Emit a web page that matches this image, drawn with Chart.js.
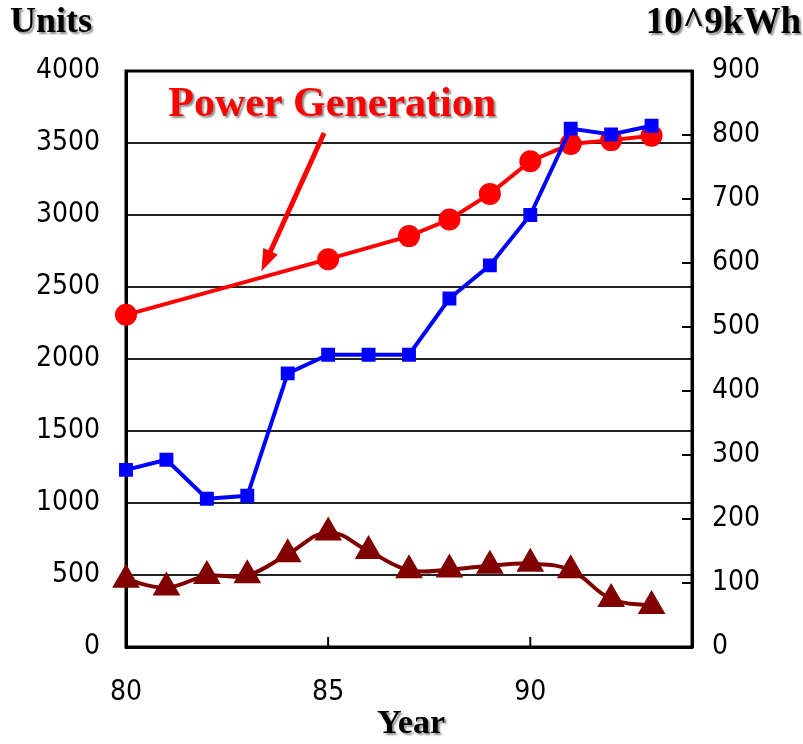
<!DOCTYPE html>
<html>
<head>
<meta charset="utf-8">
<script src="https://cdn.jsdelivr.net/npm/chart.js@4/dist/chart.umd.min.js"></script>
<style>
  html, body { margin: 0; padding: 0; background: #fff; }
  #wrap { width: 803px; height: 744px; }
</style>
</head>
<body>
<div id="wrap"><canvas id="myChart" width="803" height="744"></canvas></div>
<script>
// data
const years = [80, 81, 82, 83, 84, 85, 86, 87, 88, 89, 90, 91, 92, 93];
const units = [1230, 1300, 1030, 1050, 1900, 2030, 2030, 2030, 2420, 2650, 3000, 3600, 3560, 3620];
const powerGen = [519, null, null, null, null, 606, null, 642, 668, 708, 759, 786, 792, 799];
const lowSeries = [105, 93, 111, 112, 145, 179, 150, 120, 121, 127, 130, 120, 75, 64];
const xTickStep = 5;

const tickFont = { family: "'DejaVu Sans Condensed', 'Liberation Sans Narrow', sans-serif", size: 28 };
const serifBold = "'Liberation Serif', 'DejaVu Serif', serif";
const plain = (v) => String(v);

const toPoints = (vals) => years
    .map((y, i) => ({ x: y, y: vals[i] }))
    .filter(p => p.y !== null);

// labels, arrow, frame and inward ticks
const decorations = {
    id: 'decorations',
    beforeDatasetsDraw(chart) {
        const ctx = chart.ctx;
        const area = chart.chartArea;
        const xs = chart.scales.x;
        const yr = chart.scales.yRight;
        ctx.save();
        // frame
        ctx.strokeStyle = '#000';
        ctx.lineWidth = 3;
        ctx.strokeRect(area.left, area.top, area.right - area.left, area.bottom - area.top);
        // inward ticks on the right axis
        ctx.lineWidth = 2;
        yr.ticks.forEach(t => {
            const py = yr.getPixelForValue(t.value);
            ctx.beginPath();
            ctx.moveTo(area.right - 10, py);
            ctx.lineTo(area.right, py);
            ctx.stroke();
        });
        // inward ticks on the x axis
        xs.ticks.forEach(t => {
            const px = xs.getPixelForValue(t.value);
            ctx.beginPath();
            ctx.moveTo(px, area.bottom);
            ctx.lineTo(px, area.bottom - 10);
            ctx.stroke();
        });
        ctx.restore();
    },
    afterDraw(chart) {
        const ctx = chart.ctx;
        const xs = chart.scales.x;
        const yr = chart.scales.yRight;
        ctx.save();

        // titles with a soft shadow
        ctx.shadowColor = 'rgba(0,0,0,0.45)';
        ctx.shadowOffsetX = 2;
        ctx.shadowOffsetY = 2;
        ctx.shadowBlur = 2;
        ctx.fillStyle = '#000';
        ctx.textBaseline = 'middle';
        ctx.font = 'bold 36px ' + serifBold;
        ctx.textAlign = 'left';
        ctx.fillText('Units', 10, 23);
        ctx.textAlign = 'right';
        ctx.font = 'bold 37px ' + serifBold;
        ctx.fillText('10^9kWh', 801, 23);
        ctx.textAlign = 'center';
        ctx.font = 'bold 34px ' + serifBold;
        ctx.fillText('Year', 411, 724);

        ctx.fillStyle = '#ff0000';
        ctx.font = 'bold 42px ' + serifBold;
        ctx.fillText('Power Generation', xs.getPixelForValue(85.1), yr.getPixelForValue(846));

        // arrow pointing at the power line
        ctx.shadowColor = 'transparent';
        const x0 = xs.getPixelForValue(84.9), y0 = yr.getPixelForValue(803);
        const x1 = xs.getPixelForValue(83.35), y1 = yr.getPixelForValue(587);
        const ang = Math.atan2(y1 - y0, x1 - x0);
        ctx.strokeStyle = '#ff0000';
        ctx.lineWidth = 5;
        ctx.beginPath();
        ctx.moveTo(x0, y0);
        ctx.lineTo(x1 - 14 * Math.cos(ang), y1 - 14 * Math.sin(ang));
        ctx.stroke();
        ctx.beginPath();
        ctx.moveTo(x1, y1);
        ctx.lineTo(x1 - 22 * Math.cos(ang) + 8 * Math.sin(ang), y1 - 22 * Math.sin(ang) - 8 * Math.cos(ang));
        ctx.lineTo(x1 - 22 * Math.cos(ang) - 8 * Math.sin(ang), y1 - 22 * Math.sin(ang) + 8 * Math.cos(ang));
        ctx.closePath();
        ctx.fill();
        ctx.restore();
    }
};

new Chart("myChart", {
    type: "line",
    data: {
        datasets: [{
            label: 'Units',
            data: toPoints(units),
            yAxisID: 'yLeft',
            borderColor: '#0000ff',
            backgroundColor: '#0000ff',
            borderWidth: 4,
            pointStyle: 'rect',
            pointRadius: 7,
            tension: 0,
            clip: false
        }, {
            label: 'Power Generation',
            data: toPoints(powerGen),
            yAxisID: 'yRight',
            borderColor: '#ff0000',
            backgroundColor: '#ff0000',
            borderWidth: 4,
            pointStyle: 'circle',
            pointRadius: 9,
            tension: 0,
            clip: false
        }, {
            label: 'Other',
            data: toPoints(lowSeries),
            yAxisID: 'yRight',
            borderColor: '#800000',
            backgroundColor: '#800000',
            borderWidth: 4,
            pointStyle: 'triangle',
            pointRadius: 12,
            tension: 0.4,
            clip: false
        }]
    },
    options: {
        responsive: false,
        animation: false,
        layout: { padding: { top: 71, left: 0, right: 0, bottom: 0 } },
        plugins: {
            legend: { display: false },
            tooltip: { enabled: false }
        },
        scales: {
            x: {
                type: 'linear',
                min: 80,
                max: 94,
                afterBuildTicks: (s) => { s.ticks = s.ticks.filter(t => t.value % xTickStep === 0); },
                afterFit: (s) => { s.height = 97; },
                ticks: { stepSize: xTickStep, font: tickFont, color: '#000', padding: 29, maxRotation: 0, callback: plain },
                grid: { drawOnChartArea: false, drawTicks: false },
                border: { color: '#000', width: 3 }
            },
            yLeft: {
                position: 'left',
                min: 0,
                max: 4000,
                afterFit: (s) => { s.width = 126; },
                ticks: { stepSize: 500, font: tickFont, color: '#000', padding: 26, callback: plain },
                grid: { color: '#222', lineWidth: 2, drawTicks: false },
                border: { color: '#000', width: 3 }
            },
            yRight: {
                position: 'right',
                min: 0,
                max: 900,
                afterFit: (s) => { s.width = 111; },
                ticks: { stepSize: 100, font: tickFont, color: '#000', padding: 20, callback: plain },
                grid: { drawOnChartArea: false, drawTicks: false },
                border: { color: '#000', width: 3 }
            }
        }
    },
    plugins: [decorations]
});
</script>
</body>
</html>
